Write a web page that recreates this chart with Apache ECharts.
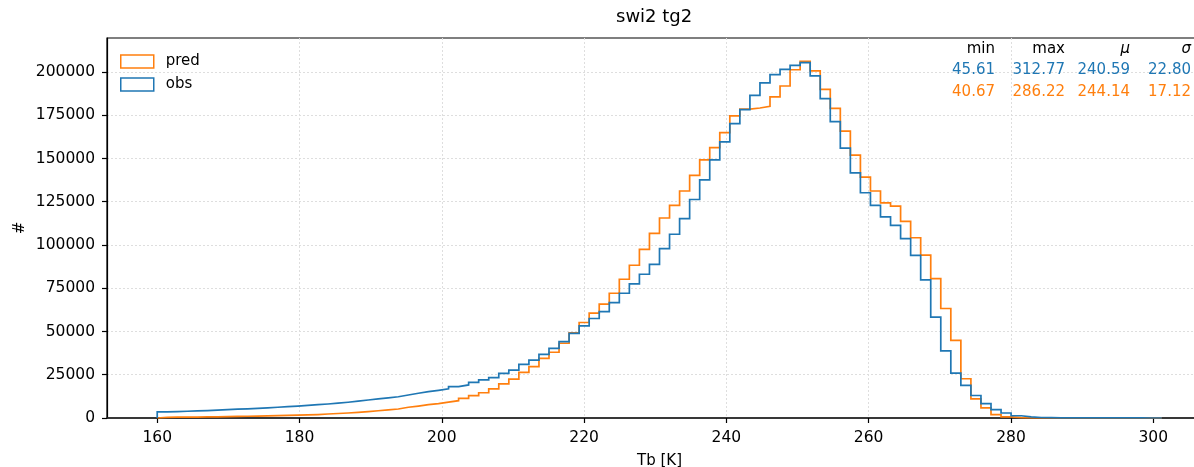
<!DOCTYPE html>
<html>
<head>
<meta charset="utf-8">
<script src="https://cdn.jsdelivr.net/npm/echarts@6/dist/echarts.min.js"></script>
<style>
html,body{margin:0;padding:0;background:#fff;}
#chart{width:1194px;height:467px;}
</style>
</head>
<body>
<div id="chart"></div>
<script>
// ---- data ----
const titleText = 'swi2 tg2';
const binStart = 160;
const binWidth = 1.412;
const xTicks = [160, 180, 200, 220, 240, 260, 280, 300];
const yTicks = [0, 25000, 50000, 75000, 100000, 125000, 150000, 175000, 200000];

const predCounts = [
  400, 450, 500, 550, 600, 700, 800, 900, 1000, 1100,
  1200, 1350, 1500, 1650, 1800, 2000, 2300, 2600, 2900, 3300,
  3700, 4200, 4700, 5200, 6200, 6900, 7700, 8300, 9200, 10000,
  11400, 12900, 14600, 16800, 19700, 22500, 26400, 29700, 34500, 38000,
  43200, 49200, 55200, 60600, 65800, 72100, 80200, 88300, 97500, 106700,
  115600, 122900, 131200, 140200, 149200, 156300, 165000, 174600, 178500, 179200,
  180200, 185600, 191900, 201300, 206200, 200600, 190000, 179000, 165800, 151900,
  139200, 131200, 124400, 122500, 113700, 104200, 94200, 80600, 63300, 44900,
  22700, 11100, 5800, 1900, 600, 200, 80, 40, 20, 10,
  5, 0, 0, 0, 0, 0, 0, 0, 0, 0
];
const obsCounts = [
  3500, 3700, 3900, 4100, 4300, 4600, 4800, 5100, 5300, 5600,
  5900, 6200, 6600, 6900, 7300, 7700, 8100, 8600, 9100, 9700,
  10400, 11000, 11600, 12300, 13300, 14300, 15200, 16000, 16900, 18100,
  19100, 20600, 22000, 23300, 25800, 27700, 31000, 33500, 36800, 40300,
  44100, 48900, 53300, 57500, 61500, 66700, 72100, 77500, 83100, 88800,
  97900, 106200, 115200, 126300, 137700, 149200, 159600, 170200, 178300, 186500,
  193700, 198500, 201500, 203800, 205400, 197700, 184600, 171300, 156000, 141700,
  130200, 122900, 116300, 111300, 103700, 94000, 79800, 58300, 38800, 25900,
  18900, 13000, 8300, 4800, 2900, 1300, 600, 300, 200, 120,
  80, 60, 50, 40, 30, 25, 20, 15, 10, 10
];

const statHeaders = ['min', 'max', 'μ', 'σ'];
const obsStats = ['45.61', '312.77', '240.59', '22.80'];
const predStats = ['40.67', '286.22', '244.14', '17.12'];

// ---- build ----
const BLUE = '#1f77b4', ORANGE = '#ff7f0e';
const FONT = 'DejaVu Sans';

function stepPoints(counts) {
  const pts = [[binStart, 0]];
  for (let i = 0; i < counts.length; i++) {
    pts.push([binStart + i * binWidth, counts[i]]);
  }
  const endX = binStart + counts.length * binWidth;
  pts.push([endX, counts[counts.length - 1]]);
  pts.push([endX, 0]);
  return pts;
}

const dataEnd = binStart + predCounts.length * binWidth;
const span = dataEnd - binStart;
const xMin = binStart - 0.05 * span;
const xMax = dataEnd + 0.05 * span;

const colX = [995, 1065, 1130, 1191];
const rowY = [49, 70, 92];
const graphics = [];
statHeaders.forEach((h, j) => {
  graphics.push({type: 'text', x: colX[j], y: rowY[0], z: 10, style: {
    text: h, fill: '#000', font: (j >= 2 ? 'italic ' : '') + '15px "' + FONT + '"',
    textAlign: 'right', textVerticalAlign: 'middle'}});
});
[[obsStats, BLUE], [predStats, ORANGE]].forEach(([row, col], r) => {
  row.forEach((v, j) => {
    graphics.push({type: 'text', x: colX[j], y: rowY[r + 1], z: 10, style: {
      text: v, fill: col, font: '15px "' + FONT + '"',
      textAlign: 'right', textVerticalAlign: 'middle'}});
  });
});

const chart = echarts.init(document.getElementById('chart'), null, {renderer: 'canvas'});
const gridLine = {show: true, showMinLine: false, showMaxLine: false,
  lineStyle: {color: '#dedede', type: [2, 2], width: 1}};
chart.setOption({
  animation: false,
  backgroundColor: '#fff',
  textStyle: {fontFamily: FONT},
  title: {
    text: titleText, left: 611, top: 3,
    textStyle: {fontFamily: FONT, fontSize: 18, fontWeight: 'normal', color: '#000'}
  },
  legend: {
    orient: 'vertical', left: 120, top: 54, itemWidth: 33, itemHeight: 13, itemGap: 8,
    padding: 0,
    textStyle: {fontFamily: FONT, fontSize: 15, color: '#000', padding: [0, 0, 0, 7]},
    data: [
      {name: 'pred', icon: 'rect', itemStyle: {color: 'rgba(255,255,255,0)', borderColor: ORANGE, borderWidth: 1.5}},
      {name: 'obs', icon: 'rect', itemStyle: {color: 'rgba(255,255,255,0)', borderColor: BLUE, borderWidth: 1.5}}
    ]
  },
  grid: {
    left: 107, top: 38, right: -18, bottom: 49,
    containLabel: false, outerBoundsMode: 'none',
    show: true, borderColor: '#000', borderWidth: 1.2, backgroundColor: 'transparent'
  },
  xAxis: {
    type: 'value', min: xMin, max: xMax,
    name: 'Tb [K]', nameLocation: 'middle', nameGap: 36, nameMoveOverlap: false,
    nameTextStyle: {fontFamily: FONT, fontSize: 15, color: '#000'},
    axisLine: {show: true, onZero: false, lineStyle: {color: '#222', width: 1.5}},
    axisTick: {show: true, length: 5, inside: false, customValues: xTicks, lineStyle: {color: '#000', width: 1.2}},
    axisLabel: {customValues: xTicks, margin: 12, fontFamily: FONT, fontSize: 15.5, color: '#000'},
    splitLine: gridLine
  },
  yAxis: {
    type: 'value', min: 0, max: 219650, interval: 25000,
    name: '#', nameLocation: 'middle', nameGap: 79, nameRotate: 90, nameMoveOverlap: false,
    nameTextStyle: {fontFamily: FONT, fontSize: 15, color: '#000'},
    axisLine: {show: true, lineStyle: {color: '#000', width: 1.2}},
    axisTick: {show: true, length: 5, inside: false, lineStyle: {color: '#000', width: 1.2}},
    axisLabel: {margin: 12, fontFamily: FONT, fontSize: 15.5, color: '#000', showMaxLabel: false,
      formatter: v => (v % 25000 === 0 ? String(v) : '')},
    splitLine: gridLine
  },
  series: [
    {
      name: 'pred', type: 'line', step: 'end', data: stepPoints(predCounts),
      showSymbol: false, symbol: 'none', color: ORANGE,
      lineStyle: {color: ORANGE, width: 1.7, join: 'miter'}, z: 2
    },
    {
      name: 'obs', type: 'line', step: 'end', data: stepPoints(obsCounts),
      showSymbol: false, symbol: 'none', color: BLUE,
      lineStyle: {color: BLUE, width: 1.7, join: 'miter'}, z: 3
    }
  ],
  graphic: graphics
});
</script>
</body>
</html>
